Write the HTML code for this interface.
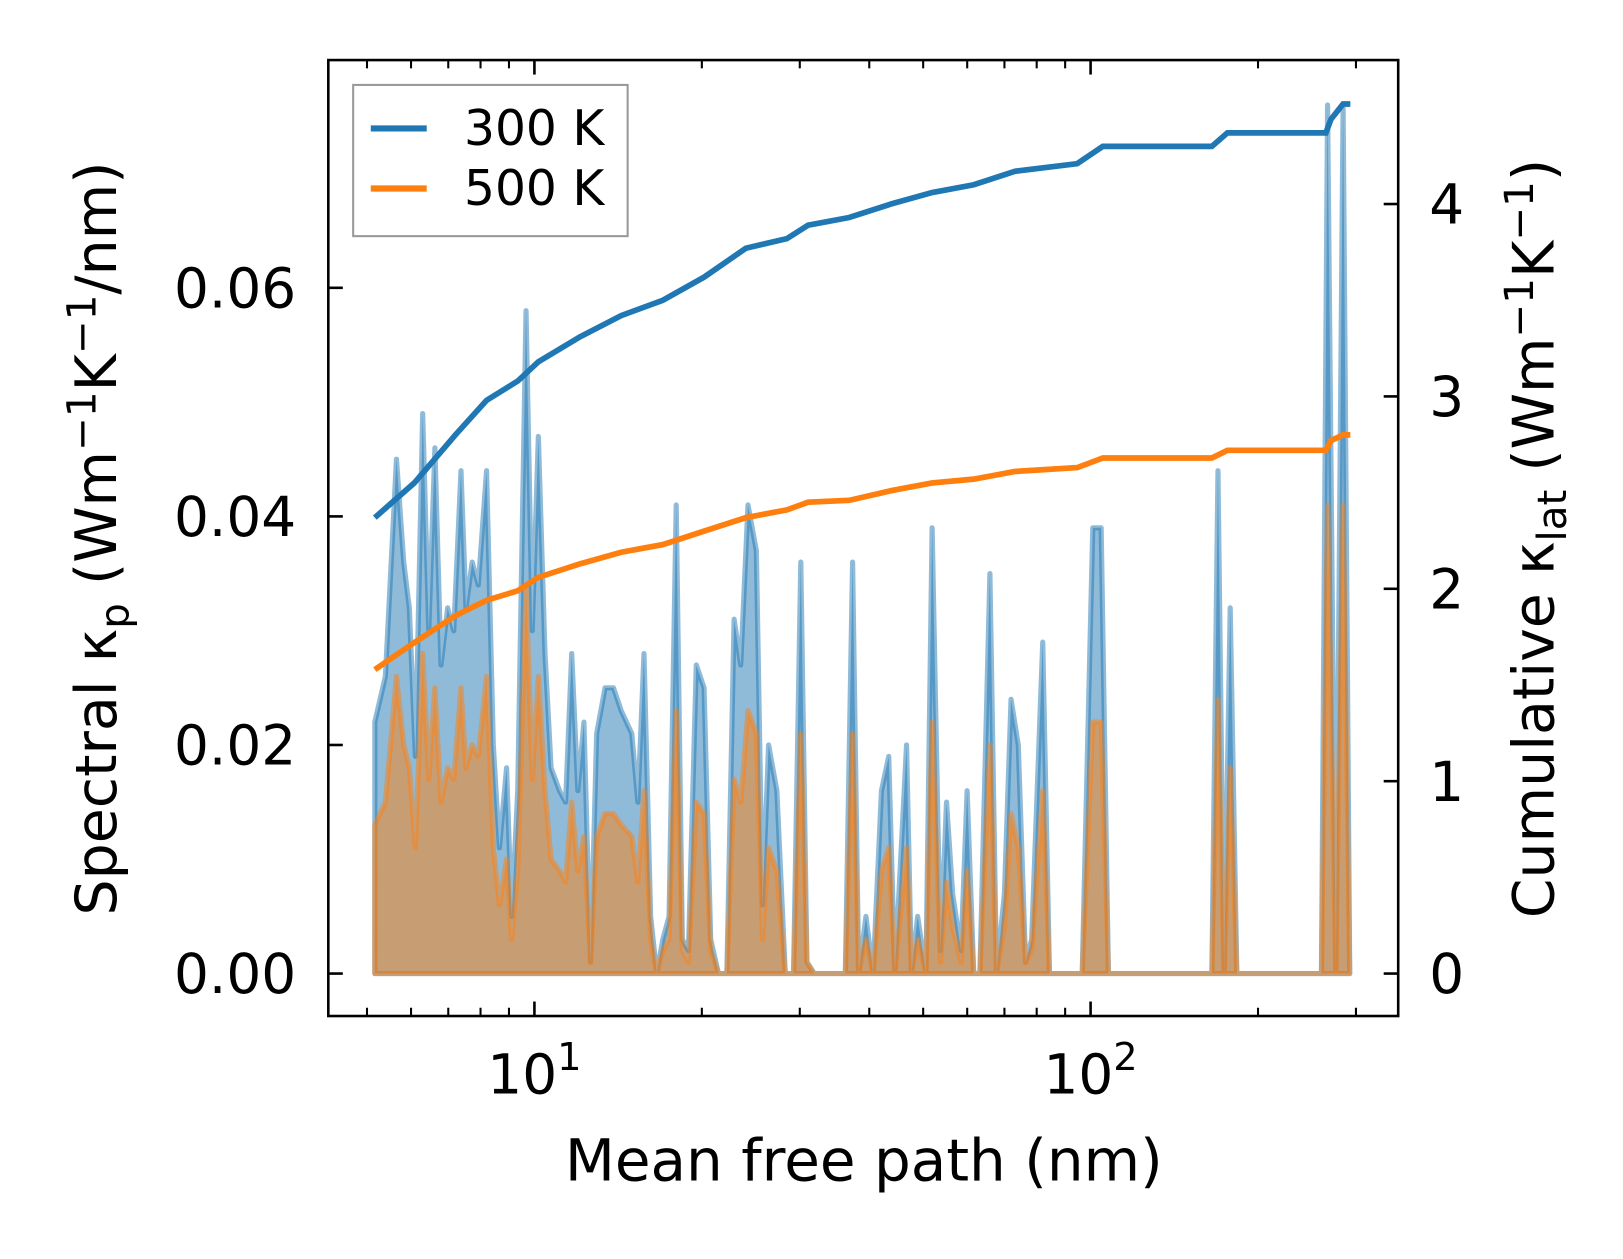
<!DOCTYPE html>
<html><head><meta charset="utf-8"><style>
body{margin:0;background:#fff}
svg text{font-family:"DejaVu Sans","Liberation Sans",sans-serif;fill:#000}
</style></head><body>
<svg id="chart" width="1623" height="1254" viewBox="0 0 1623 1254" xmlns="http://www.w3.org/2000/svg">
<rect width="1623" height="1254" fill="#fff"/>
<g transform="scale(1.0357)">
<g id="fills"></g>
<g id="lines"></g>
<rect x="317" y="58" width="1033" height="923" fill="none" stroke="#000" stroke-width="2.5"/>
<g id="ticks"></g>
<text x="834" y="1140" font-size="56" text-anchor="middle">Mean free path (nm)</text>
<text transform="translate(112,520) rotate(-90)" font-size="55" text-anchor="middle">Spectral κ<tspan font-size="39" dy="12">p</tspan><tspan dy="-12"> (Wm</tspan><tspan font-size="39" dy="-20">−1</tspan><tspan dy="20">K</tspan><tspan font-size="39" dy="-20">−1</tspan><tspan dy="20">/nm)</tspan></text>
<text transform="translate(1500,520) rotate(-90)" font-size="55" text-anchor="middle">Cumulative κ<tspan font-size="39" dy="12">lat</tspan><tspan dy="-12"> (Wm</tspan><tspan font-size="39" dy="-20">−1</tspan><tspan dy="20">K</tspan><tspan font-size="39" dy="-20">−1</tspan><tspan dy="20">)</tspan></text>
<g>
<rect x="341" y="82" width="265" height="146" fill="#fff" fill-opacity="0.8" stroke="#999" stroke-width="2"/>
<line x1="358" y1="124" x2="412" y2="124" stroke="#1f77b4" stroke-width="6"/>
<text x="448" y="140" font-size="47">300 K</text>
<line x1="358" y1="182" x2="412" y2="182" stroke="#ff7f0e" stroke-width="6"/>
<text x="448" y="198" font-size="47">500 K</text>
</g>
</g>
</svg>
<script>
const mfpLog10 = [0.713,0.732,0.752,0.765,0.775,0.786,0.799,0.810,0.821,0.832,0.844,0.855,0.868,0.877,0.888,0.899,0.914,0.926,0.937,0.950,0.959,0.970,0.985,0.996,1.007,1.019,1.030,1.045,1.056,1.067,1.078,1.089,1.101,1.112,1.127,1.142,1.156,1.175,1.186,1.197,1.209,1.220,1.231,1.242,1.255,1.266,1.277,1.291,1.305,1.317,1.331,1.346,1.359,1.371,1.384,1.399,1.410,1.421,1.436,1.451,1.466,1.479,1.490,1.503,1.521,1.559,1.572,1.583,1.596,1.609,1.624,1.637,1.648,1.669,1.678,1.689,1.704,1.715,1.730,1.741,1.752,1.767,1.778,1.790,1.801,1.819,1.831,1.845,1.857,1.870,1.883,1.894,1.914,1.926,1.985,2.004,2.019,2.032,2.218,2.229,2.240,2.251,2.263,2.415,2.426,2.441,2.454,2.466];
const spec300 = [0.022,0.026,0.045,0.036,0.032,0.019,0.049,0.030,0.046,0.027,0.032,0.030,0.044,0.032,0.036,0.034,0.044,0.020,0.011,0.018,0.005,0.016,0.058,0.030,0.047,0.028,0.018,0.016,0.015,0.028,0.016,0.022,0.001,0.021,0.025,0.025,0.023,0.021,0.015,0.028,0.005,0.000,0.003,0.005,0.041,0.003,0.002,0.027,0.025,0.003,0.000,0.000,0.031,0.027,0.041,0.037,0.006,0.020,0.016,0.000,0.000,0.036,0.001,0.000,0.000,0.000,0.036,0.000,0.005,0.000,0.016,0.019,0.000,0.020,0.000,0.005,0.000,0.039,0.002,0.015,0.007,0.002,0.016,0.000,0.000,0.035,0.000,0.007,0.024,0.020,0.001,0.003,0.029,0.000,0.000,0.039,0.039,0.000,0.000,0.044,0.000,0.032,0.000,0.000,0.076,0.000,0.076,0.000];
const spec500 = [0.013,0.015,0.026,0.020,0.018,0.011,0.028,0.017,0.025,0.015,0.018,0.017,0.025,0.018,0.020,0.019,0.026,0.011,0.006,0.010,0.003,0.009,0.034,0.017,0.026,0.016,0.010,0.009,0.008,0.015,0.009,0.012,0.001,0.012,0.014,0.014,0.013,0.012,0.008,0.016,0.003,0.000,0.002,0.003,0.023,0.002,0.001,0.015,0.014,0.002,0.000,0.000,0.017,0.015,0.023,0.021,0.003,0.011,0.009,0.000,0.000,0.021,0.001,0.000,0.000,0.000,0.021,0.000,0.003,0.000,0.009,0.011,0.000,0.011,0.000,0.003,0.000,0.022,0.001,0.008,0.004,0.001,0.009,0.000,0.000,0.020,0.000,0.004,0.014,0.011,0.001,0.002,0.016,0.000,0.000,0.022,0.022,0.000,0.000,0.024,0.000,0.018,0.000,0.000,0.041,0.000,0.041,0.000];
const cumLog10 = [0.713,0.784,0.858,0.914,0.970,1.007,1.082,1.156,1.231,1.305,1.380,1.454,1.492,1.566,1.641,1.715,1.790,1.864,1.976,2.022,2.218,2.246,2.423,2.432,2.454,2.467];
const cum300 = [2.37,2.55,2.80,2.98,3.08,3.18,3.31,3.42,3.50,3.62,3.77,3.82,3.89,3.93,4.00,4.06,4.10,4.17,4.21,4.30,4.30,4.37,4.37,4.44,4.52,4.52];
const cum500 = [1.58,1.72,1.86,1.94,1.99,2.06,2.13,2.19,2.23,2.30,2.37,2.41,2.45,2.46,2.51,2.55,2.57,2.61,2.63,2.68,2.68,2.72,2.72,2.77,2.80,2.80];
const leftTicks = [0,0.02,0.04,0.06];
const leftTickLabels = ["0.00","0.02","0.04","0.06"];
const rightTicks = [0,1,2,3,4];
const xMajor = [10,100];
const xMinor = [5,6,7,8,9,20,30,40,50,60,70,80,90,200,300];

const NS="http://www.w3.org/2000/svg";
function X(m){return 516+(Math.log10(m)-1)*537;}
function YL(v){return 940-v/0.02*220.7;}
function YR(v){return 940-v*185.75;}
function mk(tag,attrs,parent){const e=document.createElementNS(NS,tag);for(const k in attrs)e.setAttribute(k,attrs[k]);parent.appendChild(e);return e;}
const fills=document.getElementById('fills'),lines=document.getElementById('lines'),ticks=document.getElementById('ticks');
function area(vals,color,name){
  let d='M'+X(Math.pow(10,mfpLog10[0]))+','+YL(0);
  mfpLog10.forEach((e,i)=>{d+=' L'+X(Math.pow(10,e)).toFixed(1)+','+YL(vals[i]).toFixed(1);});
  d+=' L'+X(Math.pow(10,mfpLog10[mfpLog10.length-1]))+','+YL(0)+' Z';
  const p=mk('path',{d:d,fill:color,'fill-opacity':0.5,stroke:color,'stroke-opacity':0.5,'stroke-width':5,'stroke-linejoin':'round'},fills);
  
  
}
area(spec300,'#1f77b4','spectral-300k-area');
area(spec500,'#ff7f0e','spectral-500k-area');
function line(vals,color,name){
  const pts=cumLog10.map((e,i)=>X(Math.pow(10,e)).toFixed(1)+','+YR(vals[i]).toFixed(1)).join(' ');
  const p=mk('polyline',{points:pts,fill:'none',stroke:color,'stroke-width':5.5},lines);
  
  
}
line(cum300,'#1f77b4','cumulative-300k-line');
line(cum500,'#ff7f0e','cumulative-500k-line');
leftTicks.forEach((v,i)=>{
  const y=YL(v);
  const t=mk('line',{x1:317,y1:y,x2:331,y2:y,stroke:'#000','stroke-width':2.5},ticks);
  
  
  const l=mk('text',{x:286,y:y+19,'font-size':53,'text-anchor':'end'},ticks);
  l.textContent=leftTickLabels[i];
  
  
});
rightTicks.forEach(v=>{
  const y=YR(v);
  const t=mk('line',{x1:1336,y1:y,x2:1350,y2:y,stroke:'#000','stroke-width':2.5},ticks);
  
  
  const l=mk('text',{x:1380,y:y+19,'font-size':53},ticks);
  l.textContent=String(v);
  
  
});
xMajor.forEach(m=>{
  const x=X(m);
  [[981,967],[58,72]].forEach(p=>{
    const t=mk('line',{x1:x,y1:p[0],x2:x,y2:p[1],stroke:'#000','stroke-width':2.5},ticks);
    
    
  });
  const l=mk('text',{x:x,y:1056,'font-size':53,'text-anchor':'middle'},ticks);
  
  
  const s1=mk('tspan',{},l);s1.textContent='10';
  const s2=mk('tspan',{'font-size':37,dy:-23},l);s2.textContent=String(Math.round(Math.log10(m)));
});
xMinor.forEach(m=>{
  const x=X(m);
  [[981,973],[58,66]].forEach(p=>{
    const t=mk('line',{x1:x,y1:p[0],x2:x,y2:p[1],stroke:'#000','stroke-width':2},ticks);
    
    
  });
});
</script>
</body></html>
